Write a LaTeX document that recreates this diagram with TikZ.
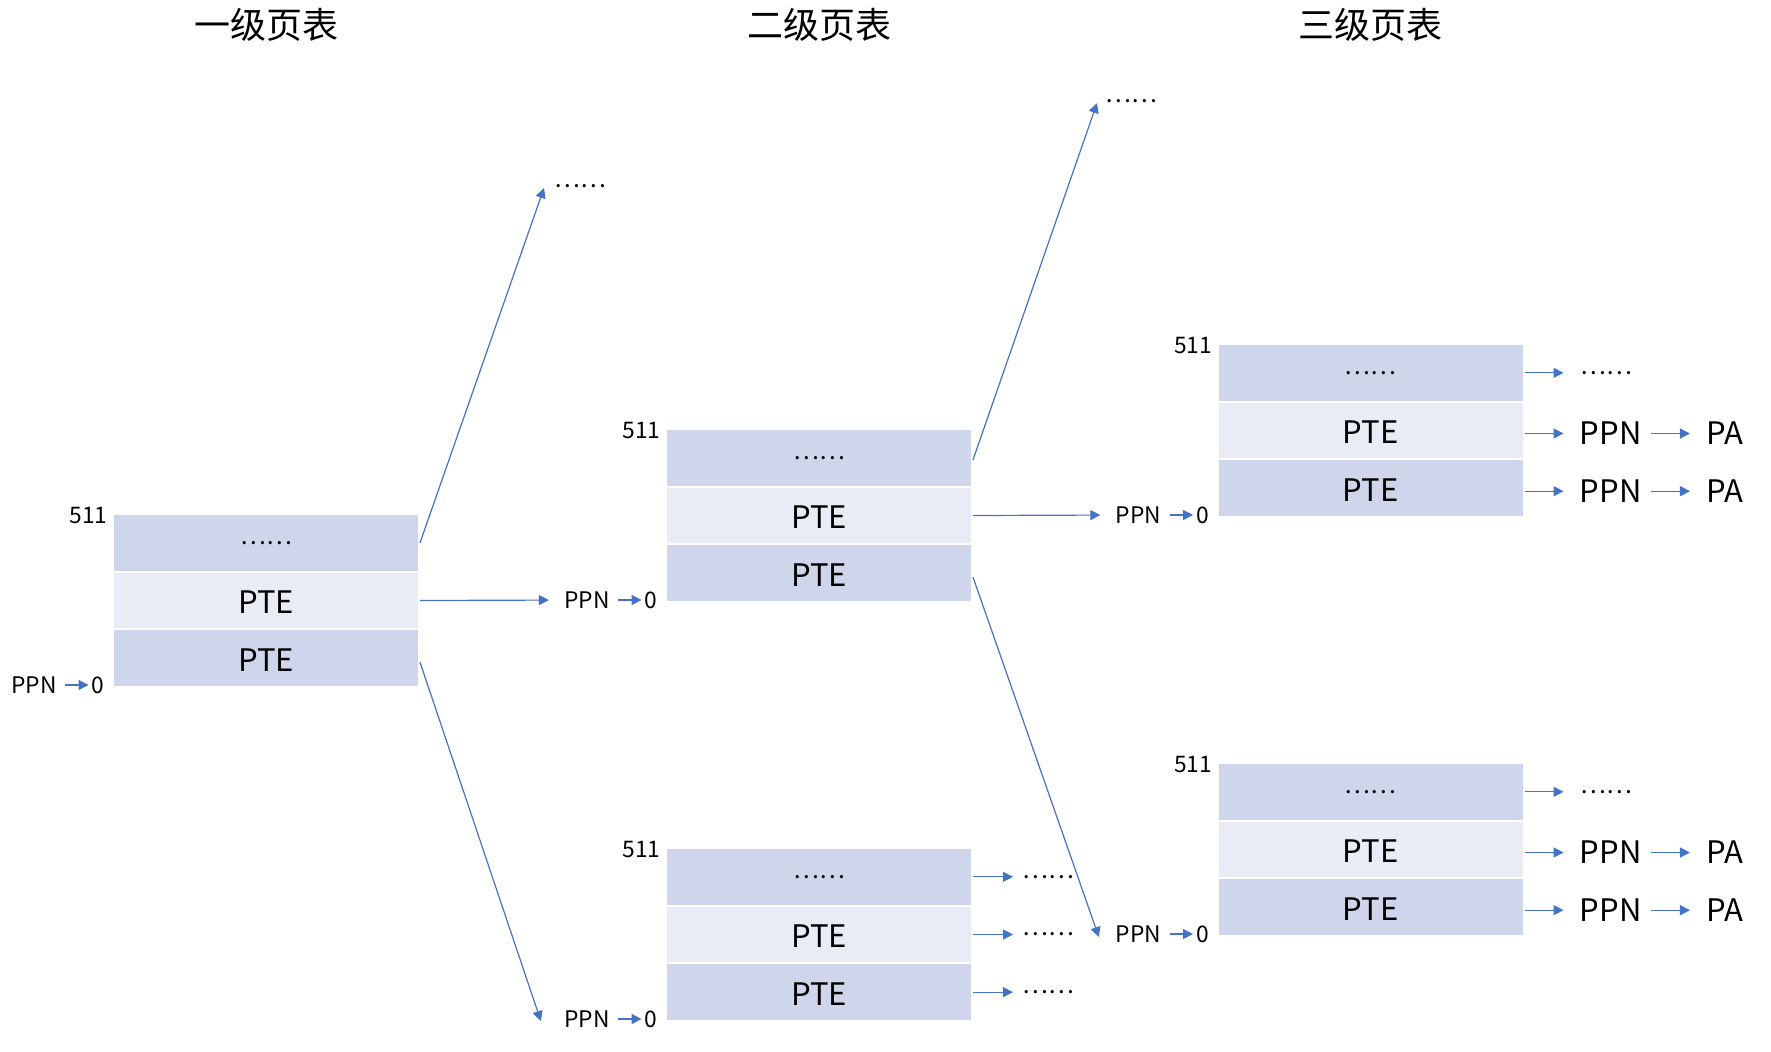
\documentclass[tikz,border=0pt]{standalone}
\usepackage{fontspec}
\setmainfont{Noto Sans CJK SC}
\usetikzlibrary{arrows.meta}
\definecolor{rowA}{HTML}{CFD5EA}
\definecolor{rowB}{HTML}{E9EBF5}
\definecolor{arr}{HTML}{4472C4}
\newcommand{\myellip}{\fontsize{12.2}{12.2}\selectfont ……}
\tikzset{
  cell/.style={draw=white, line width=1pt, minimum width=153pt, minimum height=28.83pt, inner sep=0pt, font=\fontsize{15.5}{16}\selectfont},
  dark/.style={cell, fill=rowA},
  light/.style={cell, fill=rowB},
  pte/.style={text height=13.3pt, text depth=0pt},
  small/.style={inner sep=0pt, font=\fontsize{11.4}{12}\selectfont},
  big/.style={inner sep=0pt, font=\fontsize{15.5}{16}\selectfont},
  dotsn/.style={inner sep=0pt, font=\fontsize{12.2}{12.2}\selectfont},
  titlen/.style={inner sep=0pt, font=\fontsize{18}{19}\selectfont},
  conn/.style={draw=arr, line width=0.6pt, -{Triangle[length=5pt,width=5pt]}},
  shortconn/.style={conn, shorten <=4pt, shorten >=1.5pt},
}
\newcommand{\PTtable}[4]{%
  \node[dark]  (#1-1) at ({#2},{#3+28.83}) {#4};
  \node[light,pte] (#1-2) at ({#2},{#3+86.5}) {PTE};
  \node[dark,pte]  (#1-3) at ({#2},{#3+144.17}) {PTE};
  \node[small,anchor=east] (#1-top) at ({#2-158},{#3+2}) {511};
  \node[small,anchor=east] (#1-zero) at ({#2-161},{#3+171}) {0};
  \node[small,anchor=east] (#1-ppn) at ({#2-209},{#3+171}) {PPN};
  \draw[shortconn] (#1-ppn) -- (#1-zero);
}
\begin{document}
\begin{tikzpicture}[x=0.5pt,y=-0.5pt]
\useasboundingbox (0,0) rectangle (1771,1051);
% titles
\node[titlen] (T1) at (266,25) {一级页表};
\node[titlen] (T2) at (819,25) {二级页表};
\node[titlen] (T3) at (1370.5,25) {三级页表};
% tables
\PTtable{L1}{266}{514}{\myellip}
\PTtable{L2a}{819}{429}{\myellip}
\PTtable{L2b}{819}{848}{\myellip}
\PTtable{L3a}{1370.5}{344}{\myellip}
\PTtable{L3b}{1370.5}{763}{\myellip}
% level 1 connectors
\node[dotsn,anchor=west] (L1x) at (554,186) {……};
\draw[conn] (L1-1.east) -- ([xshift=-5pt,yshift=-1pt]L1x.west);
\draw[conn, shorten >=7.5pt] (L1-2.east) -- (L2a-ppn.west);
\draw[conn] ([yshift=-2pt]L1-3.east) -- ([xshift=-11.5pt,yshift=-1pt]L2b-ppn.west);
% level 2 top connectors
\node[dotsn,anchor=west] (L2x) at (1105,101) {……};
\draw[conn] ([yshift=-1pt]L2a-1.east) -- ([xshift=-4pt,yshift=-1pt]L2x.west);
\draw[conn, shorten >=7.5pt] (L2a-2.east) -- (L3a-ppn.west);
\draw[conn] ([yshift=-2pt]L2a-3.east) -- ([xshift=-8.25pt,yshift=-1.5pt]L3b-ppn.west);
% level 2 bottom connectors
\foreach \i in {1,2,3}{
  \node[dotsn,anchor=west] (L2bx\i) at ([xshift=24.5pt]L2b-\i.east) {……};
  \draw[conn] (L2b-\i.east) -- ([xshift=-4.5pt]L2bx\i.west);
}
% level 3 connectors
\foreach \t in {L3a,L3b}{
  \node[dotsn,anchor=west] (\t x1) at ([xshift=28pt]\t-1.east) {……};
  \draw[conn] (\t-1.east) -- ([xshift=-8.5pt]\t x1.west);
  \foreach \i in {2,3}{
    \node[big,anchor=west] (\t p\i) at ([xshift=27.5pt,yshift=-1.5pt]\t-\i.east) {PPN};
    \node[big,anchor=west] (\t a\i) at ([xshift=32pt]\t p\i.east) {PA};
    \draw[conn] (\t-\i.east |- \t p\i.west) -- ([xshift=-8pt]\t p\i.west);
    \draw[conn, shorten <=4.5pt, shorten >=8pt] (\t p\i.east) -- (\t a\i.west);
  }
}
\end{tikzpicture}
\end{document}
